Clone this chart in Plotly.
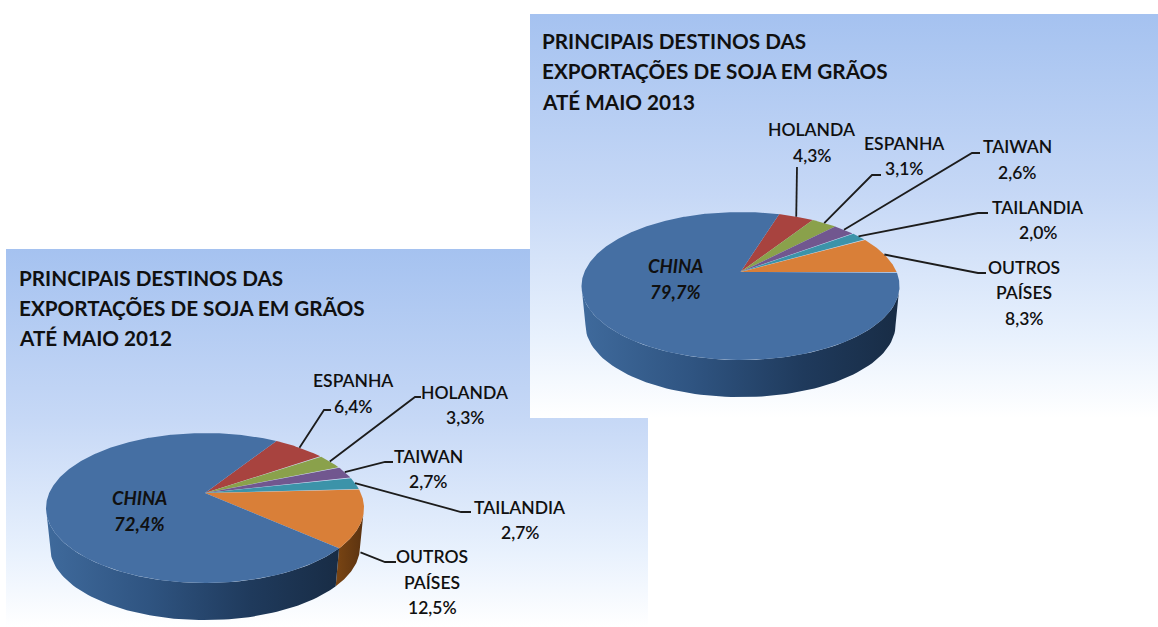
import math
import numpy as np
import plotly.graph_objects as go

# ---- data ----
categories_2012 = ["ESPANHA", "HOLANDA", "TAIWAN", "TAILANDIA", "OUTROS PAÍSES", "CHINA"]
values_2012 = [6.4, 3.3, 2.7, 2.7, 12.5, 72.4]
categories_2013 = ["HOLANDA", "ESPANHA", "TAIWAN", "TAILANDIA", "OUTROS PAÍSES", "CHINA"]
values_2013 = [4.3, 3.1, 2.6, 2.0, 8.3, 79.7]
title_2012 = ["PRINCIPAIS DESTINOS DAS", "EXPORTAÇÕES DE SOJA EM GRÃOS", "ATÉ MAIO 2012"]
title_2013 = ["PRINCIPAIS DESTINOS DAS", "EXPORTAÇÕES DE SOJA EM GRÃOS", "ATÉ MAIO 2013"]

# ---- styles ----
SLICE_COLOURS = ["#a8433f", "#8aa14b", "#71578f", "#3c93a9", "#d97f38", "#456fa3"]
PANEL_SCALE = [[0, "#ffffff"], [0.2, "#e8f1fd"], [0.55, "#c6d8f6"], [1, "#a5c2f0"]]
SIDE_BLUE = [[0, "#3f6a9c"], [0.35, "#2f5481"], [0.7, "#1f3a5c"], [1, "#182c45"]]
SIDE_ORANGE = [[0, "#7a4513"], [1, "#5a3210"]]
FONT = "Lato"
INK = "#101010"

fig = go.Figure()


def panel(x0, y0, x1, y1):
    fig.add_trace(go.Scatter(
        x=[x0, x1, x1, x0, x0], y=[y0, y0, y1, y1, y0], mode="lines", line=dict(width=0),
        fill="toself", fillgradient=dict(type="vertical", colorscale=PANEL_SCALE),
        hoverinfo="skip", showlegend=False))


def top_point(clock_deg, geo):
    """Rim point of the tilted disc: true pie angle -> perspective -> ellipse."""
    phi = math.radians(clock_deg)
    u, v = math.sin(phi), math.cos(phi)
    a = geo["a"]
    d = 1 + a * v
    U, V = u * math.sqrt(1 - a * a) / d, (v + a) / d
    return U, V


def to_px(U, V, geo):
    return geo["cx"] + geo["rx"] * U, geo["cy"] - geo["ry"] * V


def side(t0, t1, geo, scale):
    if t0 <= t1:
        return
    ts = np.linspace(t0, t1, 80)
    xt = geo["cx"] + geo["rx"] * np.cos(ts)
    yt = geo["cy"] - geo["ry"] * np.sin(ts)
    xb = geo["cx"] + geo["rx"] * geo["shrink"] * np.cos(ts[::-1])
    yb = geo["cy"] + geo["depth"] - geo["ry"] * geo["shrink"] * np.sin(ts[::-1])
    xs = np.r_[xt, xb, xt[0]]
    ys = np.r_[yt, yb, yt[0]]
    fig.add_trace(go.Scatter(x=xs, y=ys, mode="lines", line=dict(width=0), fill="toself",
                             fillgradient=dict(type="horizontal", colorscale=scale),
                             hoverinfo="skip", showlegend=False))


def pie(categories, values, geo, leaders):
    total = sum(values)
    clock = geo["start"]
    edges = []
    for cat, val in zip(categories, values):
        sweep = 360 * val / total
        edges.append((cat, clock, clock + sweep))
        clock += sweep
    # side wall: orange part then the China part, right-hand extreme to left-hand extreme
    orange_end = edges[-2][2]
    U, V = top_point(orange_end, geo)
    t_b = math.atan2(V, U)
    side(0, t_b, geo, SIDE_ORANGE)
    side(min(0, t_b), -math.pi, geo, SIDE_BLUE)
    # top face
    ax, ay = geo["cx"], geo["cy"] - geo["ry"] * geo["a"]
    for (cat, c0, c1), colour in zip(edges, SLICE_COLOURS):
        cs = np.linspace(c0, c1, max(8, int((c1 - c0) * 2)))
        pts = [to_px(*top_point(c, geo), geo) for c in cs]
        xs = [ax] + [p[0] for p in pts] + [ax]
        ys = [ay] + [p[1] for p in pts] + [ay]
        fig.add_trace(go.Scatter(x=xs, y=ys, mode="lines", line=dict(width=0), fill="toself",
                                 fillcolor=colour, hoverinfo="skip", showlegend=False))
    # leader lines
    for cat, c0, c1 in edges:
        if cat not in leaders:
            continue
        dx, dy, pts = leaders[cat]
        sx, sy = to_px(*top_point((c0 + c1) / 2, geo), geo)
        xs = [sx + dx] + [p[0] for p in pts]
        ys = [sy + dy] + [p[1] for p in pts]
        fig.add_trace(go.Scatter(x=xs, y=ys, mode="lines", line=dict(color="#1c1c1c", width=1.8),
                                 hoverinfo="skip", showlegend=False))


def label(text, x, y, size=17.5, weight=600, italic=False, anchor="center"):
    fig.add_annotation(x=x, y=y, xref="x", yref="y", text=text, showarrow=False, xanchor=anchor,
                       yanchor="middle",
                       font=dict(family=FONT, size=size, color=INK, weight=weight,
                                 style="italic" if italic else "normal"))


def pct(v):
    return f"{v:.1f}".replace(".", ",") + "%"


def labels(categories, values, where):
    for cat, val in zip(categories, values):
        x, ys = where[cat]
        words = ["OUTROS", "PAÍSES"] if cat == "OUTROS PAÍSES" else [cat]
        lines = words + [pct(val)]
        for line, y in zip(lines, ys):
            if cat == "CHINA":
                label(line, x, y, size=18.5, weight=700, italic=True)
            else:
                label(line, x, y)


# ---- 2012 panel ----
panel(6, 249, 648, 627)
GEO_2012 = dict(cx=205, cy=508, rx=159, ry=75, a=0.2, depth=39, shrink=0.975, start=32.4)
pie(categories_2012, values_2012, GEO_2012, {
    "ESPANHA": (0, 0, [(324, 410), (331, 410)]),
    "HOLANDA": (0, 0, [(415, 397), (421, 397)]),
    "TAIWAN": (0, 0, [(385, 462), (393, 462)]),
    "TAILANDIA": (0, 0, [(461, 512), (471, 512)]),
    "OUTROS PAÍSES": (-2, 34, [(385, 562), (396, 562)]),
})
labels(categories_2012, values_2012, {
    "ESPANHA": (353, (380, 406)),
    "HOLANDA": (465, (392, 417)),
    "TAIWAN": (428, (456, 481)),
    "TAILANDIA": (520, (507, 532)),
    "OUTROS PAÍSES": (432, (556, 582, 607)),
    "CHINA": (139, (498, 524)),
})
for line, y in zip(title_2012, (278, 308, 338)):
    label(line, 17, y, size=20.7, weight=700, anchor="left")

# ---- 2013 panel ----
panel(530, 14, 1158, 418)
GEO_2013 = dict(cx=740.5, cy=286, rx=159, ry=74, a=0.19, depth=39, shrink=0.975, start=17)
pie(categories_2013, values_2013, GEO_2013, {
    "HOLANDA": (0, 0, [(797, 167)]),
    "ESPANHA": (0, 0, [(872, 175), (881, 175)]),
    "TAIWAN": (0, 0, [(972, 153), (980, 153)]),
    "TAILANDIA": (0, 0, [(978, 213), (988, 213)]),
    "OUTROS PAÍSES": (0, 0, [(978, 273), (986, 273)]),
})
labels(categories_2013, values_2013, {
    "HOLANDA": (812, (129, 155)),
    "ESPANHA": (904, (143, 168)),
    "TAIWAN": (1017, (146, 172)),
    "TAILANDIA": (1038, (207, 232)),
    "OUTROS PAÍSES": (1024, (267, 292, 318)),
    "CHINA": (675, (266, 292)),
})
for line, y in zip(title_2013, (41, 71, 102)):
    label(line, 540, y, size=20.7, weight=700, anchor="left")

fig.update_layout(
    width=1158, height=627, margin=dict(l=0, r=0, t=0, b=0),
    paper_bgcolor="white", plot_bgcolor="white", showlegend=False,
    xaxis=dict(range=[0, 1158], visible=False, fixedrange=True),
    yaxis=dict(range=[627, 0], visible=False, fixedrange=True),
)
fig.write_html("out.html", config={"displayModeBar": False},
               post_script="document.body.style.margin='0';")
